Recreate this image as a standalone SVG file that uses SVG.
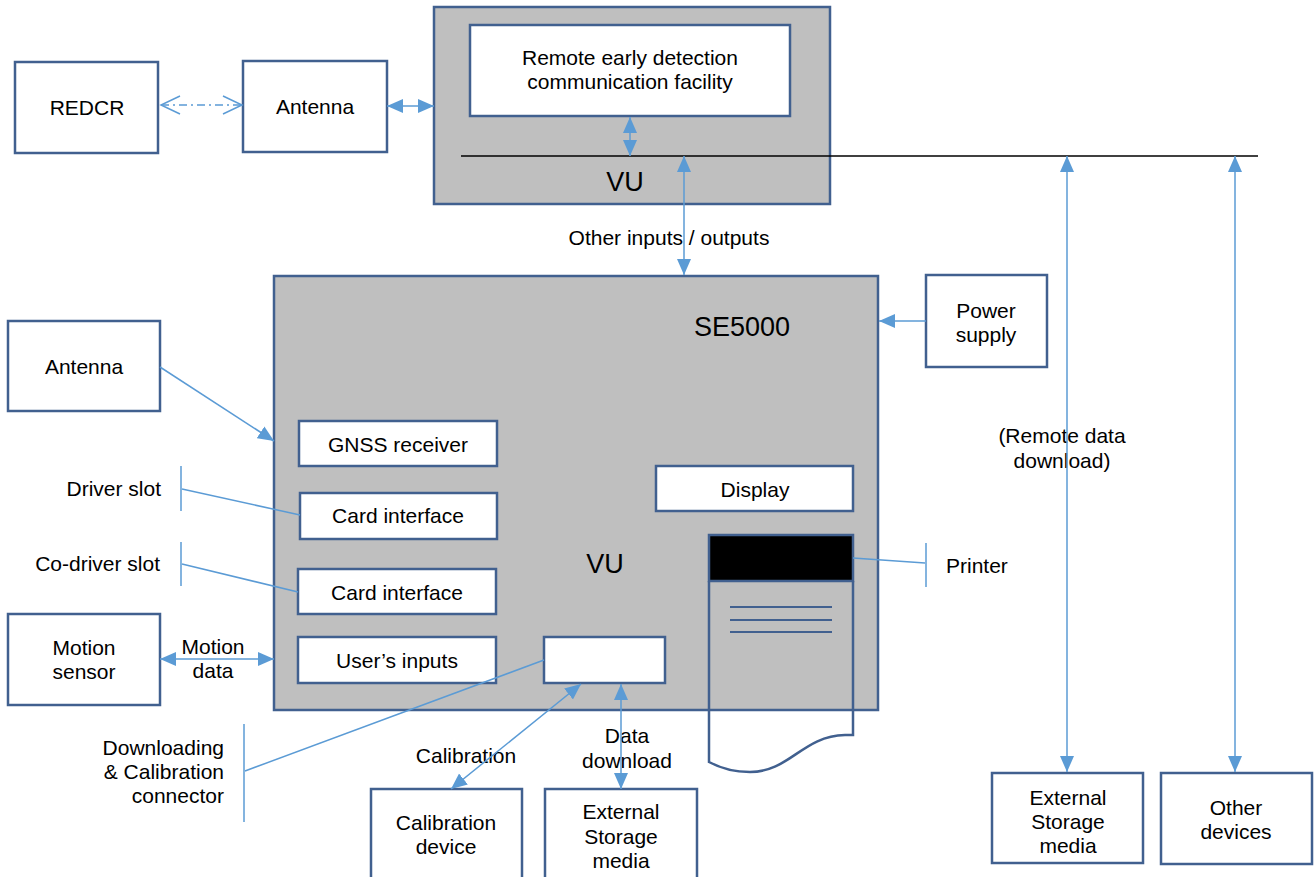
<svg xmlns="http://www.w3.org/2000/svg" width="1315" height="877" viewBox="0 0 1315 877">
<style>
.box{fill:#fff;stroke:#41608f;stroke-width:2.5}
.gbox{fill:#bfbfbf;stroke:#41608f;stroke-width:2.5}
.t{font-family:"Liberation Sans",Arial,sans-serif;font-size:21px;fill:#000}
.m{text-anchor:middle}
.e{text-anchor:end}
.big{font-size:27px}
.c{fill:none;stroke:#5b9bd5;stroke-width:1.5}
</style>
<defs>
<marker id="ah" markerUnits="userSpaceOnUse" markerWidth="16" markerHeight="16" viewBox="0 0 16 16" refX="16" refY="8" orient="auto-start-reverse">
<path d="M0,1 L16,8 L0,15 Z" fill="#5b9bd5"/>
</marker>
<marker id="oh" markerUnits="userSpaceOnUse" markerWidth="22" markerHeight="22" viewBox="0 0 22 22" refX="20" refY="11" orient="auto-start-reverse">
<path d="M1,2 L20,11 L1,20" fill="none" stroke="#5b9bd5" stroke-width="1.5"/>
</marker>
</defs>

<g id="vu-top">
<rect class="gbox" x="434" y="7" width="396" height="197"/>
<text class="t m big" x="625" y="191">VU</text>
</g>
<g id="redcf">
<rect class="box" x="470" y="25" width="320" height="91"/>
<text class="t m" x="630" y="65">Remote early detection</text>
<text class="t m" x="630" y="89">communication facility</text>
</g>
<g id="redcr">
<rect class="box" x="15" y="62" width="143" height="91"/>
<text class="t m" x="87" y="115">REDCR</text>
</g>
<g id="antenna-top">
<rect class="box" x="243" y="61" width="144" height="91"/>
<text class="t m" x="315" y="114">Antenna</text>
</g>

<g id="se5000">
<rect class="gbox" x="274" y="276" width="604" height="434"/>
<text class="t m big" x="742" y="336">SE5000</text>
<text class="t m big" x="605" y="573">VU</text>
</g>
<g id="gnss">
<rect class="box" x="299" y="421" width="198" height="45"/>
<text class="t m" x="398" y="452">GNSS receiver</text>
</g>
<g id="card1">
<rect class="box" x="300" y="493" width="197" height="46"/>
<text class="t m" x="398" y="523">Card interface</text>
</g>
<g id="card2">
<rect class="box" x="298" y="569" width="198" height="45"/>
<text class="t m" x="397" y="600">Card interface</text>
</g>
<g id="users-inputs">
<rect class="box" x="298" y="637" width="198" height="46"/>
<text class="t m" x="397" y="668">User’s inputs</text>
</g>
<g id="connector-box">
<rect class="box" x="544" y="637" width="121" height="46"/>
</g>
<g id="display">
<rect class="box" x="656" y="466" width="197" height="45"/>
<text class="t m" x="755" y="497">Display</text>
</g>
<g id="printer">
<path d="M709,581 V762 C720,768 735,772 750,772 C790,772 802,736 845,735 H853 V581" fill="none" stroke="#41608f" stroke-width="2.5"/>
<rect x="709" y="535" width="144" height="46" fill="#000" stroke="#41608f" stroke-width="2.5"/>
<line x1="730" y1="607" x2="832" y2="607" stroke="#41608f" stroke-width="2"/>
<line x1="730" y1="620" x2="832" y2="620" stroke="#41608f" stroke-width="2"/>
<line x1="730" y1="632" x2="832" y2="632" stroke="#41608f" stroke-width="2"/>
</g>

<g id="power">
<rect class="box" x="926" y="275" width="121" height="92"/>
<text class="t m" x="986" y="318">Power</text>
<text class="t m" x="986" y="342">supply</text>
</g>
<g id="antenna-left">
<rect class="box" x="8" y="321" width="152" height="90"/>
<text class="t m" x="84" y="374">Antenna</text>
</g>
<g id="motion-sensor">
<rect class="box" x="8" y="614" width="152" height="91"/>
<text class="t m" x="84" y="655">Motion</text>
<text class="t m" x="84" y="679">sensor</text>
</g>
<g id="calibration-device">
<rect class="box" x="371" y="789" width="151" height="95"/>
<text class="t m" x="446" y="830">Calibration</text>
<text class="t m" x="446" y="854">device</text>
</g>
<g id="ext-storage-1">
<rect class="box" x="545" y="789" width="152" height="95"/>
<text class="t m" x="621" y="819">External</text>
<text class="t m" x="621" y="844">Storage</text>
<text class="t m" x="621" y="868">media</text>
</g>
<g id="ext-storage-2">
<rect class="box" x="992" y="773" width="151" height="90"/>
<text class="t m" x="1068" y="805">External</text>
<text class="t m" x="1068" y="829">Storage</text>
<text class="t m" x="1068" y="853">media</text>
</g>
<g id="other-devices">
<rect class="box" x="1161" y="773" width="151" height="91"/>
<text class="t m" x="1236" y="815">Other</text>
<text class="t m" x="1236" y="839">devices</text>
</g>

<g id="labels">
<text class="t m" x="669" y="245">Other inputs / outputs</text>
<text class="t m" x="1062" y="443">(Remote data</text>
<text class="t m" x="1062" y="468">download)</text>
<text class="t e" x="161" y="496">Driver slot</text>
<text class="t e" x="160" y="571">Co-driver slot</text>
<text class="t m" x="213" y="654">Motion</text>
<text class="t m" x="213" y="678">data</text>
<text class="t" x="946" y="573">Printer</text>
<text class="t m" x="627" y="743">Data</text>
<text class="t m" x="627" y="768">download</text>
<text class="t e" x="224" y="755">Downloading</text>
<text class="t e" x="224" y="779">&amp; Calibration</text>
<text class="t e" x="224" y="803">connector</text>
<text class="t m" x="466" y="763">Calibration</text>
</g>

<g id="connectors">
<line x1="461" y1="156" x2="1258" y2="156" stroke="#000" stroke-width="1.3"/>
<line class="c" x1="161" y1="105" x2="242" y2="105" stroke-dasharray="8,4,2,4" marker-start="url(#oh)" marker-end="url(#oh)"/>
<line class="c" x1="387" y1="106" x2="434" y2="106" marker-start="url(#ah)" marker-end="url(#ah)"/>
<line class="c" x1="630" y1="117" x2="630" y2="156" marker-start="url(#ah)" marker-end="url(#ah)"/>
<line class="c" x1="684" y1="156" x2="684" y2="275" marker-start="url(#ah)" marker-end="url(#ah)"/>
<line class="c" x1="926" y1="321" x2="879" y2="321" marker-end="url(#ah)"/>
<line class="c" x1="1067" y1="156" x2="1067" y2="772" marker-start="url(#ah)" marker-end="url(#ah)"/>
<line class="c" x1="1235" y1="156" x2="1235" y2="772" marker-start="url(#ah)" marker-end="url(#ah)"/>
<line class="c" x1="160" y1="367" x2="274" y2="441" marker-end="url(#ah)"/>
<line class="c" x1="181" y1="466" x2="181" y2="511" stroke-width="2"/>
<line class="c" x1="182" y1="489" x2="300" y2="515"/>
<line class="c" x1="181" y1="542" x2="181" y2="586" stroke-width="2"/>
<line class="c" x1="182" y1="564" x2="298" y2="592"/>
<line class="c" x1="160" y1="659" x2="274" y2="659" marker-start="url(#ah)" marker-end="url(#ah)"/>
<line class="c" x1="244" y1="724" x2="244" y2="822" stroke-width="2"/>
<line class="c" x1="245" y1="771" x2="544" y2="660"/>
<line class="c" x1="581" y1="684" x2="451" y2="789" marker-start="url(#ah)" marker-end="url(#ah)"/>
<line class="c" x1="621" y1="684" x2="621" y2="789" marker-start="url(#ah)" marker-end="url(#ah)"/>
<line class="c" x1="853" y1="558" x2="925" y2="563"/>
<line class="c" x1="926" y1="543" x2="926" y2="587" stroke-width="2"/>
</g>
</svg>
